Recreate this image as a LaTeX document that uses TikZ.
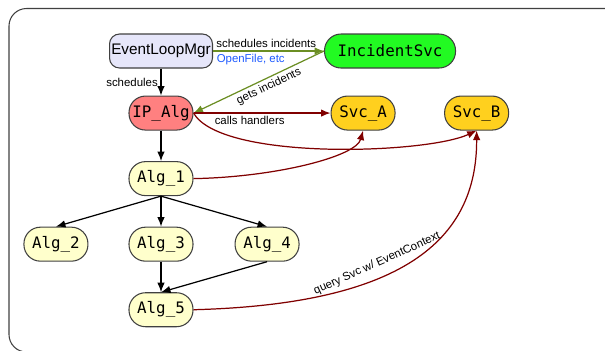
\documentclass[tikz,border=0pt]{standalone}
\usepackage{fontspec}
\setmainfont{Liberation Sans}
\newfontfamily\algfont{DejaVu Sans Mono}
\usetikzlibrary{arrows.meta, positioning}

\definecolor{mgrfill}{RGB}{230,230,250}
\definecolor{incfill}{RGB}{34,250,34}
\definecolor{ipfill}{RGB}{255,128,128}
\definecolor{svcfill}{RGB}{255,208,30}
\definecolor{algfill}{RGB}{255,255,204}
\definecolor{incline}{RGB}{107,142,35}
\definecolor{svcline}{RGB}{128,0,0}
\definecolor{notecol}{RGB}{30,90,255}
\definecolor{border}{RGB}{64,64,64}

\begin{document}
\begin{tikzpicture}[
    box/.style={rectangle, draw=border, line width=0.6pt, rounded corners=0.33cm,
                minimum height=0.68cm, minimum width=1.28cm, inner xsep=1pt,
                font=\algfont\fontsize{9}{10}\selectfont},
    mgr/.style={box, fill=mgrfill, rounded corners=0.2cm, minimum width=2.02cm,
                font=\fontsize{8.7}{10}\selectfont},
    inc/.style={box, fill=incfill, minimum width=2.62cm},
    ipalgbox/.style={box, fill=ipfill},
    svc/.style={box, fill=svcfill},
    alg/.style={box, fill=algfill},
    flow/.style={-{Latex[length=1.9mm, width=1.5mm]}, line width=0.7pt},
    incarrow/.style={flow, draw=incline},
    svcarrow/.style={flow, draw=svcline},
    lbl/.style={font=\fontsize{6.5}{7.5}\selectfont, inner sep=1.5pt},
]
    \clip (0,0) rectangle (12.1,-7.0);
    \draw[border, line width=0.6pt, rounded corners=0.35cm] (0.18,-0.17) rectangle (12.5,-7.04);

    \node[mgr]      (elm)    at (3.22,-1.02)                 {EventLoopMgr};
    \node[inc]      (incsvc) [right=2.22cm of elm]           {IncidentSvc};
    \node[ipalgbox] (ipalg)  [below=0.54cm of elm]           {IP\_Alg};
    \node[svc]      (svca)   [right=2.74cm of ipalg]         {Svc\_A};
    \node[svc]      (svcb)   [right=0.97cm of svca]          {Svc\_B};
    \node[alg]      (alg1)   [below=0.61cm of ipalg]         {Alg\_1};
    \node[alg]      (alg3)   [below=0.61cm of alg1]          {Alg\_3};
    \node[alg]      (alg2)   [left=0.8cm of alg3]            {Alg\_2};
    \node[alg]      (alg4)   [right=0.82cm of alg3]          {Alg\_4};
    \node[alg]      (alg5)   [below=0.61cm of alg3]          {Alg\_5};

    % incidents
    \draw[incarrow] (elm) -- (incsvc)
        node[lbl, above, pos=0.48] {schedules incidents}
        node[lbl, below, pos=0.34, text=notecol] {OpenFile, etc};
    \draw[incarrow] (incsvc.west) -- (ipalg.east)
        node[lbl, sloped, below, pos=0.45] {gets incidents};

    % scheduling
    \draw[flow] (elm) -- (ipalg) node[lbl, left, midway] {schedules};
    \draw[flow] (ipalg) -- (alg1);
    \draw[flow] (alg1.south) -- (alg2.north);
    \draw[flow] (alg1.south) -- (alg3.north);
    \draw[flow] (alg1.south) -- (alg4.north);
    \draw[flow] (alg3.south) -- (alg5.north);
    \draw[flow] (alg4.south) -- (alg5.north);

    % services
    \draw[svcarrow] (ipalg) -- (svca)
        node[lbl, below, pos=0.41, text=black] {calls handlers};
    \draw[svcarrow] (ipalg.east) to[out=-60, in=205, looseness=0.5] (svcb.south);
    \draw[svcarrow] (alg1.east) .. controls +(1.64,0.03) and +(-0.14,-0.52) .. (svca.south);
    \draw[svcarrow] (alg5.east) .. controls +(4.14,0.11) and +(0.01,-2.22) .. (svcb.south)
        node[lbl, sloped, above=3pt, pos=0.4, text=black] {query Svc w/ EventContext};
\end{tikzpicture}
\end{document}
